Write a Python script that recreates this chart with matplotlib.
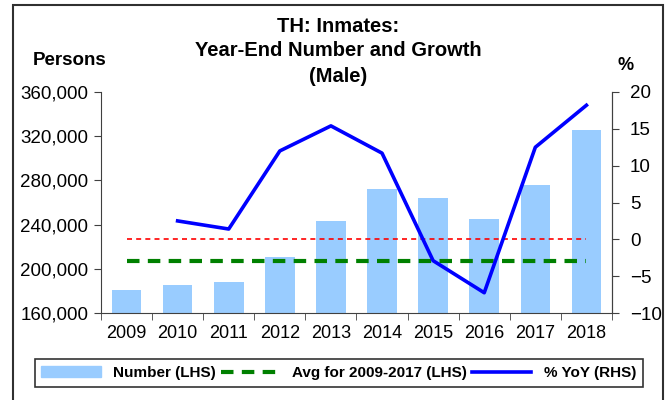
import numpy as np
import matplotlib
matplotlib.use('Agg')
import matplotlib.pyplot as plt
from matplotlib.patches import Rectangle
from matplotlib.lines import Line2D
from matplotlib.ticker import FuncFormatter

plt.rcParams['font.family'] = ['Liberation Sans', 'DejaVu Sans']

years = ['2009', '2010', '2011', '2012', '2013', '2014', '2015', '2016', '2017', '2018']
inmates = [180800, 185300, 188300, 210700, 243000, 272000, 264000, 245000, 275800, 325600]
yoy = [np.nan, 2.5, 1.4, 12.0, 15.4, 11.7, -2.9, -7.25, 12.5, 18.2]
avg_0917 = 207000
zero_ref = 0

x = np.arange(len(years))

fig = plt.figure(figsize=(6.7, 4), dpi=100)
ax = fig.add_axes([0.1507, 0.2175, 0.7627, 0.5525])
ax2 = ax.twinx()

ax.bar(x, inmates, width=0.58, color='#99CCFF', zorder=1)
ax.plot(x, [avg_0917] * len(x), color='#008000', lw=3, dashes=(3, 2), zorder=2)
ax2.plot(x, [zero_ref] * len(x), color='#FF0000', lw=1.2, dashes=(3, 2.5), zorder=2)
ax2.plot(x, yoy, color='#0000FF', lw=2.6, zorder=3)

ax.set_xlim(-0.5, len(x) - 0.5)
ax.set_ylim(160000, 360000)
ax.set_yticks(np.arange(160000, 360001, 40000))
ax.yaxis.set_major_formatter(FuncFormatter(lambda v, p: f'{int(v):,}'))
ax2.set_ylim(-10, 20)
ax2.set_yticks(np.arange(-10, 21, 5))

ax.set_xticks(x)
ax.set_xticklabels(years)
ax.set_xticks(np.arange(-0.5, len(x), 1), minor=True)
ax.tick_params(axis='x', which='major', length=0, pad=9, labelsize=13)
ax.tick_params(axis='x', which='minor', length=5, direction='out', color='#404040')
ax.tick_params(axis='y', length=5, direction='out', pad=4, labelsize=13.5, color='#404040')
ax2.tick_params(axis='y', length=5, direction='out', pad=8, labelsize=13.5, color='#404040')

for a in (ax, ax2):
    a.spines['top'].set_visible(False)
    for s in ('left', 'right', 'bottom'):
        a.spines[s].set_color('#404040')
ax2.spines['left'].set_visible(False)
ax2.spines['bottom'].set_visible(False)

fig.text(0.505, 0.8725, 'TH: Inmates:\nYear-End Number and Growth\n(Male)', ha='center', va='center',
         fontsize=14.5, fontweight='bold', linespacing=1.4)
fig.text(0.104, 0.848, 'Persons', ha='center', va='center', fontsize=13.5, fontweight='bold')
fig.text(0.934, 0.835, '%', ha='center', va='center', fontsize=13, fontweight='bold')

# outer frame
fig.add_artist(Rectangle((0.0194, -0.02), 0.9702, 1.0075, transform=fig.transFigure,
                         fill=False, edgecolor='#303030', lw=1.5, clip_on=False))

handles = [Rectangle((0, 0), 1, 1, color='#99CCFF'),
           Line2D([], [], color='#008000', lw=3, dashes=(3, 2)),
           Line2D([], [], color='#0000FF', lw=2.6)]
labels = ['Number (LHS)', 'Avg for 2009-2017 (LHS)', '% YoY (RHS)']
leg = fig.legend(handles, labels, loc='center', bbox_to_anchor=(0.5055, 0.0675), ncol=3,
                 prop={'weight': 'bold', 'size': 11}, frameon=True, fancybox=False,
                 edgecolor='black', handlelength=3.9, handletextpad=0.8, columnspacing=0.3,
                 borderpad=0.45)
leg.get_frame().set_linewidth(1.2)

fig.savefig('out.png', dpi=100)
